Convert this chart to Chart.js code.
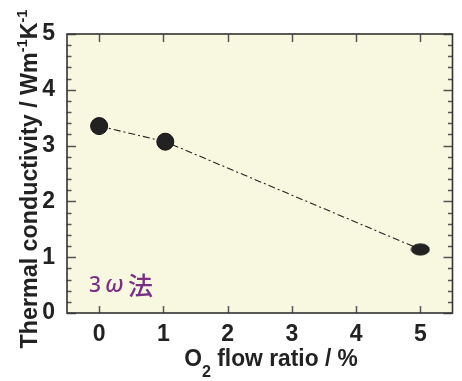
<!DOCTYPE html>
<html>
<head>
<meta charset="utf-8">
<script src="https://cdn.jsdelivr.net/npm/chart.js@4/dist/chart.umd.min.js"></script>
<style>
html,body{margin:0;padding:0;background:#fff;}
#wrap{width:462px;height:381px;}
</style>
</head>
<body>
<div id="wrap"><canvas id="c" width="462" height="381"></canvas></div>
<script>
// ---- data ----
const o2FlowRatio = [0, 1.03, 5];
const thermalConductivity = [3.35, 3.07, 1.14];
const xTickValues = [0, 1, 2, 3, 4, 5];
const yTickValues = [0, 1, 2, 3, 4, 5];
const yTitleMain = 'Thermal conductivity / Wm';
const xTitleParts = ['O', '2', ' flow ratio / %'];
const methodLabel = ['3', 'ω', '法'];

const FONT = '"Liberation Sans", Arial, Helvetica, sans-serif';
const INK = '#222222';

// ellipse marker for last point
const ell = document.createElement('canvas');
ell.width = 20; ell.height = 13;
(function(){
  const g = ell.getContext('2d');
  g.beginPath();
  g.ellipse(10, 6.5, 9, 5.6, 0, 0, Math.PI*2);
  g.fillStyle = '#222';
  g.fill();
  g.lineWidth = 1;
  g.strokeStyle = '#111';
  g.stroke();
})();

const points = o2FlowRatio.map((x, i) => ({x: x, y: thermalConductivity[i]}));

function fitText(ctx, txt, font, scaleX, x, y) {
  ctx.font = font;
  ctx.save();
  ctx.translate(x, y);
  ctx.scale(scaleX, 1);
  ctx.fillText(txt, 0, 0);
  ctx.restore();
  return ctx.measureText(txt).width * scaleX;
}

const framePlugin = {
  id: 'framePlugin',
  beforeDraw(chart) {
    const {ctx, chartArea: a} = chart;
    ctx.save();
    ctx.fillStyle = '#f8f7df';
    ctx.fillRect(a.left, a.top, a.right - a.left, a.bottom - a.top);
    ctx.restore();
  },
  beforeDatasetsDraw(chart) {
    const {ctx, chartArea: a, scales} = chart;
    const xs = scales.x, ys = scales.y;
    ctx.save();
    ctx.strokeStyle = '#555';
    ctx.lineWidth = 1.5;
    ctx.beginPath();
    for (let i = 0; i <= 25; i++) {
      const v = i / 5;
      const py = Math.round(ys.getPixelForValue(v)) + 0.5;
      const len = (i % 5 === 0) ? 9 : 4.5;
      ctx.moveTo(a.left, py); ctx.lineTo(a.left + len, py);
      ctx.moveTo(a.right, py); ctx.lineTo(a.right - len, py);
    }
    xTickValues.forEach(v => {
      const px = Math.round(xs.getPixelForValue(v)) + 0.5;
      ctx.moveTo(px, a.bottom); ctx.lineTo(px, a.bottom - 7);
      ctx.moveTo(px, a.top); ctx.lineTo(px, a.top + 8);
    });
    ctx.stroke();
    ctx.strokeStyle = '#333';
    ctx.lineWidth = 1.6;
    ctx.strokeRect(a.left, a.top, a.right - a.left, a.bottom - a.top);
    ctx.restore();
  },
  afterDraw(chart) {
    const {ctx} = chart;
    ctx.save();
    ctx.fillStyle = INK;
    ctx.textBaseline = 'alphabetic';
    ctx.textAlign = 'left';
    // y title (rotated), bold
    const big = 'bold 24px ' + FONT, sup = 'bold 15px ' + FONT;
    const sx0 = 0.97;
    ctx.font = big; const w1 = ctx.measureText(yTitleMain).width * sx0;
    const wK = ctx.measureText('K').width * sx0;
    ctx.font = sup; const wS = ctx.measureText('-1').width * sx0;
    const total = w1 + wS + wK + wS;
    ctx.translate(37, 179);
    ctx.rotate(-Math.PI/2);
    let cx = -total/2;
    fitText(ctx, yTitleMain, big, sx0, cx, 0); cx += w1;
    fitText(ctx, '-1', sup, sx0, cx, -10); cx += wS;
    fitText(ctx, 'K', big, sx0, cx, 0); cx += wK;
    fitText(ctx, '-1', sup, sx0, cx, -10);
    ctx.setTransform(1,0,0,1,0,0);
    // x title
    const sx1 = 0.95;
    ctx.font = big; const wO = ctx.measureText(xTitleParts[0]).width * sx1;
    const wR = ctx.measureText(xTitleParts[2]).width * sx1;
    ctx.font = 'bold 17px ' + FONT; const w2 = ctx.measureText(xTitleParts[1]).width * sx1;
    const tw = wO + w2 + wR;
    let sx = 271 - tw/2;
    fitText(ctx, xTitleParts[0], big, sx1, sx, 366); sx += wO;
    fitText(ctx, xTitleParts[1], 'bold 17px ' + FONT, sx1, sx, 377); sx += w2;
    fitText(ctx, xTitleParts[2], big, sx1, sx, 366);
    // method label
    ctx.fillStyle = '#7b2e86';
    ctx.font = '500 21px "Noto Sans"'; ctx.fillText(methodLabel[0], 89, 292);
    ctx.font = 'italic 500 23px "Noto Sans"'; ctx.fillText(methodLabel[1], 105, 292);
    ctx.font = '500 25px "Noto Sans CJK JP"'; ctx.fillText(methodLabel[2], 128, 295);
    ctx.restore();
  }
};

new Chart(document.getElementById('c'), {
  type: 'line',
  data: {
    datasets: [{
      data: points,
      borderColor: '#222',
      borderWidth: 1.1,
      borderDash: [7, 3, 2, 3],
      fill: false,
      tension: 0,
      pointStyle: ['circle', 'circle', ell],
      pointRadius: 8.5,
      pointBackgroundColor: '#222',
      pointBorderColor: '#111',
      pointBorderWidth: 1
    }]
  },
  options: {
    responsive: false,
    animation: false,
    devicePixelRatio: 1,
    layout: {padding: {left: 0, right: 1, top: 34, bottom: 0}},
    plugins: {legend: {display: false}, tooltip: {enabled: false}},
    scales: {
      x: {
        type: 'linear', min: -0.5, max: 5.5,
        grid: {display: false, drawTicks: false},
        border: {display: false},
        afterBuildTicks: s => { s.ticks = xTickValues.map(v => ({value: v})); },
        afterFit: s => { s.height = 68; },
        ticks: {font: {size: 23, family: FONT, weight: 'bold'}, color: INK, padding: 8, maxRotation: 0}
      },
      y: {
        type: 'linear', min: 0, max: 5,
        grid: {display: false, drawTicks: false},
        border: {display: false},
        afterBuildTicks: s => { s.ticks = yTickValues.map(v => ({value: v})); },
        afterFit: s => { s.width = 67; },
        ticks: {font: {size: 23, family: FONT, weight: 'bold'}, color: INK, padding: 12}
      }
    }
  },
  plugins: [framePlugin]
});
</script>
</body>
</html>
